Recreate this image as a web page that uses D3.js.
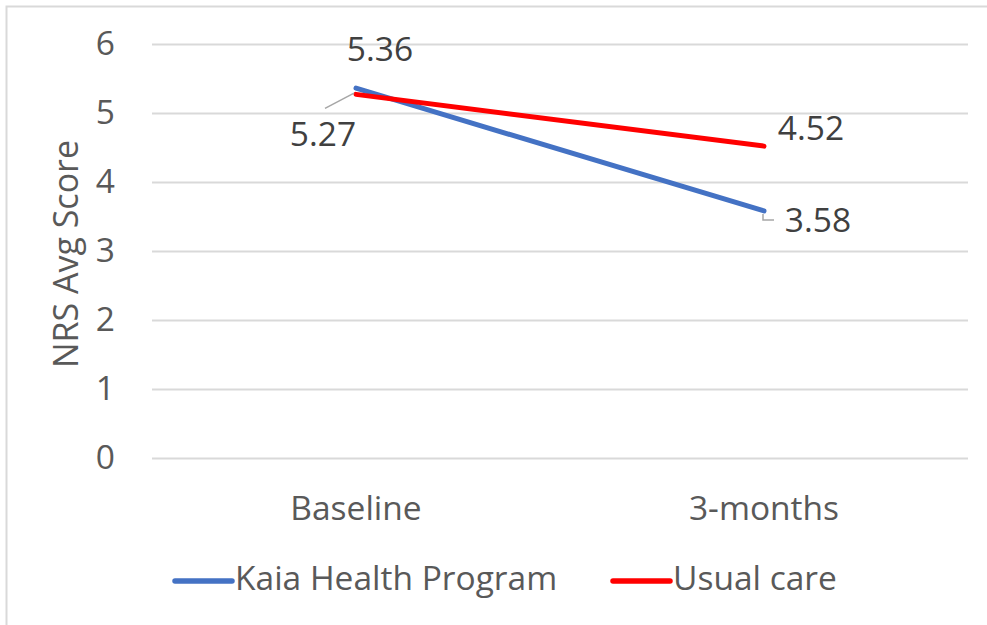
<!DOCTYPE html>
<html><head><meta charset="utf-8">
<script src="https://cdn.jsdelivr.net/npm/d3@7/dist/d3.min.js"></script>
<style>body{margin:0;background:#fff}svg{display:block}</style>
</head><body><svg id="c" width="987" height="625"></svg>
<script>
const categories = ["Baseline", "3-months"];
const seriesNames = ["Kaia Health Program", "Usual care"];
const kaiaValues = [5.36, 3.58];
const usualValues = [5.27, 4.52];
const yTicks = [0, 1, 2, 3, 4, 5, 6];
const colors = ["#4472C4", "#FF0000"];

const svg = d3.select("#c");
const font = "'Open Sans', sans-serif";
const textColor = "#595959";
const fs = 33.5;
svg.append("rect").attr("x", 6.5).attr("y", 6.5).attr("width", 1000).attr("height", 700)
  .attr("fill", "#fff").attr("stroke", "#d9d9d9").attr("stroke-width", 2);

const L = 152, R = 968, T = 44, B = 458;
const x = d3.scaleBand().domain(categories).range([L, R]);
const y = d3.scaleLinear().domain([0, 6]).range([B, T]);
const cx = c => x(c) + x.bandwidth() / 2;

const yAxis = svg.append("g").attr("transform", `translate(${L},0)`)
  .call(d3.axisLeft(y).tickValues(yTicks).tickFormat(d3.format("d")).tickSize(-(R - L)).tickPadding(37));
yAxis.select(".domain").remove();
yAxis.selectAll("line").attr("stroke", "#d9d9d9").attr("stroke-width", 2);
yAxis.selectAll("text").attr("font-family", font).attr("font-size", fs).attr("fill", textColor);

const xAxis = svg.append("g").attr("transform", `translate(0,${B})`)
  .call(d3.axisBottom(x).tickSize(0).tickPadding(38));
xAxis.select(".domain").remove();
xAxis.selectAll("text").attr("font-family", font).attr("font-size", fs).attr("fill", textColor);

svg.append("text").attr("transform", `translate(78,254) rotate(-90)`).attr("text-anchor", "middle")
  .attr("font-family", font).attr("font-size", 34).attr("fill", textColor).text("NRS Avg Score");

const series = [kaiaValues, usualValues];
const line = d3.line().x((d, i) => cx(categories[i])).y(d => y(d));
series.forEach((vals, s) => {
  svg.append("path").attr("d", line(vals)).attr("fill", "none")
    .attr("stroke", colors[s]).attr("stroke-width", 5).attr("stroke-linecap", "round");
});

// leader lines
svg.append("polyline").attr("points", `${cx(categories[0]) - 31},${y(usualValues[0]) + 14} ${cx(categories[0]) - 2},${y(kaiaValues[0]) + 5}`)
  .attr("fill", "none").attr("stroke", "#a6a6a6").attr("stroke-width", 1.5);
svg.append("polyline").attr("points", `${cx(categories[1]) - 1},${y(kaiaValues[1]) + 3} ${cx(categories[1]) - 1},${y(kaiaValues[1]) + 9} ${cx(categories[1]) + 10},${y(kaiaValues[1]) + 9}`)
  .attr("fill", "none").attr("stroke", "#a6a6a6").attr("stroke-width", 1.5);

const labels = [
  {v: kaiaValues[0], c: 0, dx: 24, dy: -36},
  {v: usualValues[0], c: 0, dx: -33, dy: 43},
  {v: usualValues[1], c: 1, dx: 47, dy: -15},
  {v: kaiaValues[1], c: 1, dx: 54, dy: 12}
];
labels.forEach(l => {
  svg.append("text").attr("x", cx(categories[l.c]) + l.dx).attr("y", y(l.v) + l.dy)
    .attr("text-anchor", "middle").attr("dominant-baseline", "middle")
    .attr("font-family", font).attr("font-size", fs).attr("fill", "#404040").text(l.v.toFixed(2));
});

// legend
const legX = [175, 613];
seriesNames.forEach((n, i) => {
  svg.append("line").attr("x1", legX[i]).attr("x2", legX[i] + 57).attr("y1", 581).attr("y2", 581)
    .attr("stroke", colors[i]).attr("stroke-width", 5.5).attr("stroke-linecap", "round");
  svg.append("text").attr("x", legX[i] + 60).attr("y", 581).attr("dominant-baseline", "middle")
    .attr("font-family", font).attr("font-size", fs).attr("fill", textColor).text(n);
});
</script></body></html>
